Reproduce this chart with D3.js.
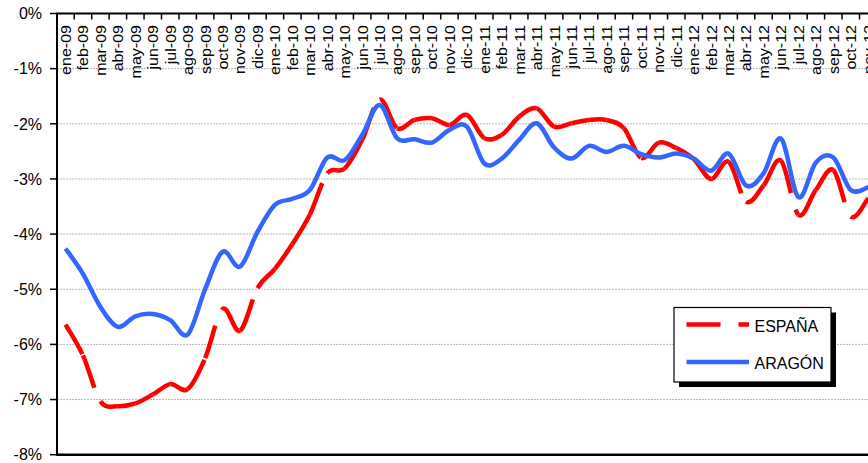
<!DOCTYPE html>
<html>
<head>
<meta charset="utf-8">
<script src="https://cdn.jsdelivr.net/npm/d3@7"></script>
<style>
  html, body { margin: 0; padding: 0; background: #fff; }
  svg { display: block; font-family: "Liberation Sans", Arial, sans-serif; }
</style>
</head>
<body>
<svg id="chart" width="868" height="463"></svg>
<script>
// ---- DATA ----
const months = [
  "ene-09","feb-09","mar-09","abr-09","may-09","jun-09","jul-09","ago-09","sep-09","oct-09","nov-09","dic-09",
  "ene-10","feb-10","mar-10","abr-10","may-10","jun-10","jul-10","ago-10","sep-10","oct-10","nov-10","dic-10",
  "ene-11","feb-11","mar-11","abr-11","may-11","jun-11","jul-11","ago-11","sep-11","oct-11","nov-11","dic-11",
  "ene-12","feb-12","mar-12","abr-12","may-12","jun-12","jul-12","ago-12","sep-12","oct-12","nov-12"
];
const espana = [
  -5.64, -6.20, -7.03, -7.12, -7.07, -6.91, -6.72, -6.81, -6.25, -5.36, -5.75, -4.98,
  -4.63, -4.18, -3.65, -2.90, -2.81, -2.29, -1.56, -2.08, -1.93, -1.90, -2.02, -1.84,
  -2.26, -2.20, -1.87, -1.72, -2.05, -1.99, -1.93, -1.93, -2.08, -2.62, -2.34, -2.44,
  -2.64, -3.00, -2.69, -3.41, -3.12, -2.67, -3.65, -3.20, -2.84, -3.68, -3.35
];
const aragon = [
  -4.26, -4.72, -5.32, -5.68, -5.49, -5.45, -5.56, -5.82, -5.00, -4.32, -4.59, -3.96,
  -3.47, -3.36, -3.20, -2.61, -2.66, -2.20, -1.66, -2.26, -2.28, -2.34, -2.11, -2.05,
  -2.72, -2.63, -2.29, -1.99, -2.43, -2.63, -2.40, -2.51, -2.40, -2.55, -2.61, -2.54,
  -2.63, -2.85, -2.54, -3.12, -2.90, -2.27, -3.33, -2.70, -2.61, -3.20, -3.15
];
const yTickValues = [0, -1, -2, -3, -4, -5, -6, -7, -8];
const yTickLabels = ["0%", "-1%", "-2%", "-3%", "-4%", "-5%", "-6%", "-7%", "-8%"];
const seriesNames = ["ESPAÑA", "ARAGÓN"];

// ---- SCALES ----
const svg = d3.select("#chart");
const W = 868;
const plotLeft = 57;
const x = d3.scaleBand().domain(months).range([56.8, 56.8 + 17.45 * months.length]);
const cx = m => x(m) + x.bandwidth() / 2;
const y = d3.scaleLinear().domain([-8, 0]).range([454.7, 13.5]);

// ---- GRIDLINES ----
svg.append("g").selectAll("line")
  .data(yTickValues.filter(v => v !== 0 && v !== -8))
  .join("line")
  .attr("x1", plotLeft).attr("x2", W)
  .attr("y1", d => y(d)).attr("y2", d => y(d))
  .attr("stroke", "#b8b8b8").attr("stroke-width", 1)
  .attr("stroke-dasharray", "2,1");

// ---- Y AXIS LABELS + TICKS ----
const yg = svg.append("g");
yg.selectAll("text")
  .data(yTickValues)
  .join("text")
  .attr("x", 42).attr("y", d => y(d))
  .attr("dy", "0.36em")
  .attr("text-anchor", "end")
  .attr("font-size", 16)
  .attr("fill", "#000")
  .text((d, i) => yTickLabels[i]);
yg.selectAll("line")
  .data(yTickValues)
  .join("line")
  .attr("x1", 50).attr("x2", plotLeft)
  .attr("y1", d => y(d)).attr("y2", d => y(d))
  .attr("stroke", "#000").attr("stroke-width", 1.5);

// ---- Smoothed segment helper (Excel-like smoothing) ----
function segmentPath(pts, i, ctx) {
  const n = pts.length;
  const p0 = pts[Math.max(i - 1, 0)], p1 = pts[i], p2 = pts[i + 1], p3 = pts[Math.min(i + 2, n - 1)];
  const c1 = [p1[0] + (p2[0] - p0[0]) / 6, p1[1] + (p2[1] - p0[1]) / 6];
  const c2 = [p2[0] - (p3[0] - p1[0]) / 6, p2[1] - (p3[1] - p1[1]) / 6];
  ctx.bezierCurveTo(c1[0], c1[1], c2[0], c2[1], p2[0], p2[1]);
}

// ---- ESPAÑA (dashed, pattern restarts at every point) ----
const ptsE = espana.map((v, i) => [cx(months[i]), y(v)]);
const gE = svg.append("g");
d3.range(ptsE.length - 1).forEach(i => {
  const p = d3.path();
  p.moveTo(ptsE[i][0], ptsE[i][1]);
  segmentPath(ptsE, i, p);
  gE.append("path")
    .attr("d", p.toString())
    .attr("fill", "none")
    .attr("stroke", "#ff0000")
    .attr("stroke-width", 4.5)
    .attr("stroke-dasharray", "34,17")
    .attr("stroke-linecap", "butt");
});

// ---- ARAGÓN (solid) ----
const ptsA = aragon.map((v, i) => [cx(months[i]), y(v)]);
const pA = d3.path();
pA.moveTo(ptsA[0][0], ptsA[0][1]);
d3.range(ptsA.length - 1).forEach(i => segmentPath(ptsA, i, pA));
svg.append("path")
  .attr("d", pA.toString())
  .attr("fill", "none")
  .attr("stroke", "#3366ff")
  .attr("stroke-width", 4.5)
  .attr("stroke-linejoin", "round");

// ---- AXES LINES ----
svg.append("line").attr("x1", plotLeft).attr("x2", plotLeft).attr("y1", y(0)).attr("y2", y(-8) + 1)
  .attr("stroke", "#000").attr("stroke-width", 2);
svg.append("line").attr("x1", plotLeft).attr("x2", W).attr("y1", y(-8)).attr("y2", y(-8))
  .attr("stroke", "#000").attr("stroke-width", 2.5);
svg.append("line").attr("x1", plotLeft - 1).attr("x2", W).attr("y1", y(0)).attr("y2", y(0))
  .attr("stroke", "#000").attr("stroke-width", 2);

// top category ticks (at band boundaries, pointing down)
svg.append("g").selectAll("line")
  .data(months)
  .join("line")
  .attr("x1", d => x(d) + x.bandwidth()).attr("x2", d => x(d) + x.bandwidth())
  .attr("y1", y(0)).attr("y2", y(0) + 6)
  .attr("stroke", "#000").attr("stroke-width", 1.5);

// category labels, rotated
svg.append("g").selectAll("text")
  .data(months)
  .join("text")
  .attr("transform", d => `translate(${cx(d)},25) rotate(-90) scale(1.07,1)`)
  .attr("dy", "0.36em")
  .attr("text-anchor", "end")
  .attr("font-size", 15)
  .attr("fill", "#000")
  .text(d => d);

// ---- LEGEND ----
const lg = svg.append("g");
lg.append("rect").attr("x", 679).attr("y", 312.5).attr("width", 157).attr("height", 74.5).attr("fill", "#000");
lg.append("rect").attr("x", 674).attr("y", 307.5).attr("width", 157).attr("height", 74.5)
  .attr("fill", "#fff").attr("stroke", "#000").attr("stroke-width", 1.2);
lg.append("line").attr("x1", 686.5).attr("x2", 749).attr("y1", 324.5).attr("y2", 324.5)
  .attr("stroke", "#ff0000").attr("stroke-width", 4.5).attr("stroke-dasharray", "34,18");
lg.append("line").attr("x1", 686.5).attr("x2", 749).attr("y1", 362).attr("y2", 362)
  .attr("stroke", "#3366ff").attr("stroke-width", 4.5);
lg.selectAll("text")
  .data(seriesNames)
  .join("text")
  .attr("x", 754.5).attr("y", (d, i) => i === 0 ? 332.3 : 368.5)
  .attr("font-size", 16)
  .attr("fill", "#000")
  .text(d => d);
</script>
</body>
</html>
